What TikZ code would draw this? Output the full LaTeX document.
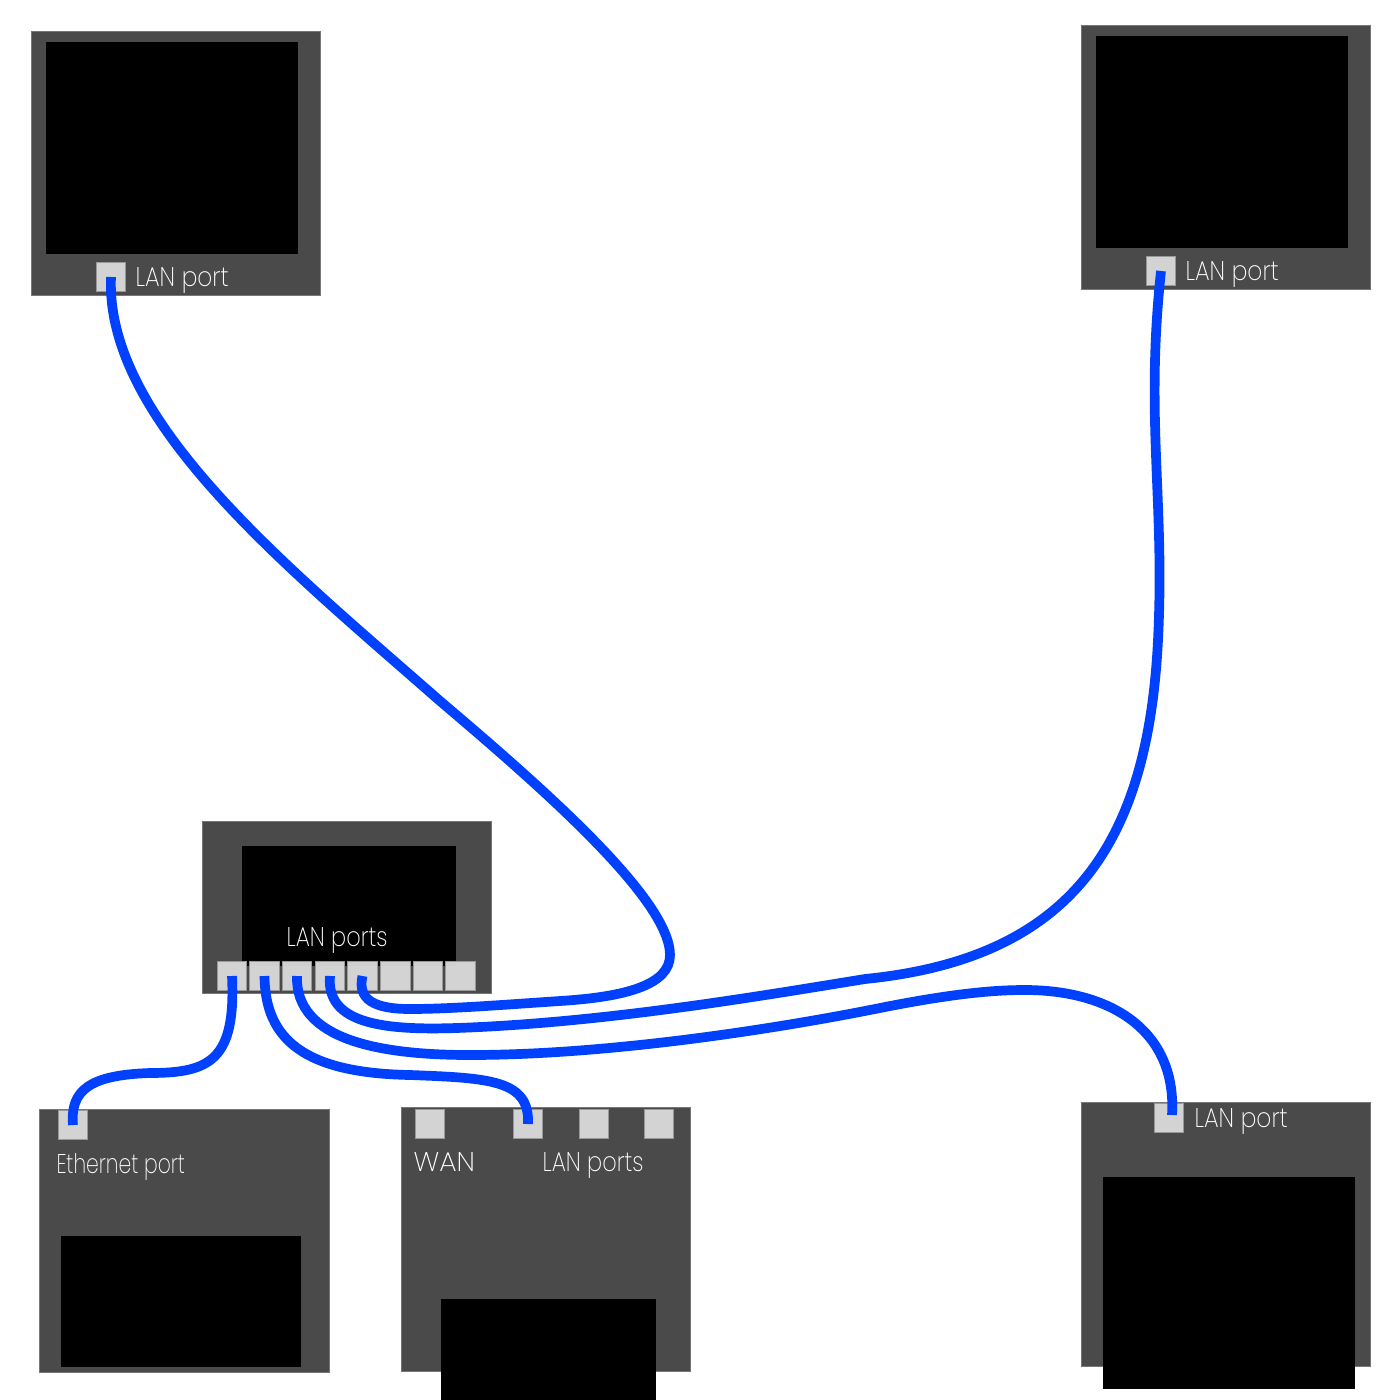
\documentclass[tikz,border=0pt]{standalone}
\usepackage{fontspec}
\setmainfont{Poppins ExtraLight}
\definecolor{panelc}{HTML}{4A4A4A}
\definecolor{portc}{HTML}{D9D9D9}
\definecolor{cablec}{HTML}{0040FF}
\begin{document}
\begin{tikzpicture}[x=0.01cm,y=-0.01cm,
 panel/.style={fill=panelc,draw=panelc!75!white,line width=0.005cm},
 screen/.style={fill=black},
 portbox/.style={fill=portc,fill opacity=0.96,draw=portc!70!black,line width=0.007cm,minimum width=0.295cm,minimum height=0.295cm,inner sep=0pt,outer sep=0pt},
 lbl/.style={text=white,font=\fontsize{7.7}{8}\selectfont,inner sep=0pt,anchor=base west,transform shape},
 cable/.style={draw=cablec,line width=0.097cm,line cap=butt}]
\useasboundingbox (0,0) rectangle (1400,1400);
\fill[white] (0,0) rectangle (1400,1400);
% panels and screens
\path[panel] (31,31) rectangle (320,295);
\path[screen] (46,42) rectangle (298,254);
\path[panel] (1081,25) rectangle (1370,289);
\path[screen] (1096,36) rectangle (1348,248);
\path[panel] (202,821) rectangle (491,993);
\path[screen] (242,846) rectangle (456,966);
\path[panel] (39,1109) rectangle (329,1372);
\path[screen] (61,1236) rectangle (301,1367);
\path[panel] (401,1107) rectangle (690,1371);
\path[screen] (441,1299) rectangle (656,1400);
\path[panel] (1081,1102) rectangle (1370,1366);
\path[screen] (1103,1177) rectangle (1355,1389);
% ports
\node[portbox] (tl) at (111,277) {};
\node[portbox] (tr) at (1161,271) {};
\foreach \i/\x in {1/232,2/264.5,3/297,4/330,5/362.5,6/395.5,7/428,8/460.5}
  \node[portbox] (sw\i) at (\x,976) {};
\node[portbox] (eth) at (73,1125) {};
\node[portbox] (wan) at (430,1124) {};
\node[portbox] (rl1) at (528,1124) {};
\node[portbox] (rl2) at (594,1124) {};
\node[portbox] (rl3) at (659,1124) {};
\node[portbox] (br) at (1169,1118) {};
% labels
\node[lbl,xscale=.86] (t1) at (135,286) {LAN port};
\node[lbl,xscale=.86] (t2) at (1185,280) {LAN port};
\node[lbl,xscale=.83] (t3) at (286,946) {LAN ports};
\node[lbl,xscale=.75] (t4) at (56,1173) {Ethernet port};
\node[lbl,xscale=1.02] (t5) at (413,1171) {WAN};
\node[lbl,xscale=.83] (t6) at (542,1171) {LAN ports};
\node[lbl,xscale=.86] (t7) at (1194,1127) {LAN port};
% cables
\path[cable] (tl.center) .. controls (105,420) and (285,565) .. (440,701)
  .. controls (545,790) and (670,900) .. (670,955)
  .. controls (670,985) and (625,997) .. (560,1001)
  .. controls (500,1005) and (450,1009) .. (410,1009)
  .. controls (375,1009) and (357,1000) .. (sw5.center);
\path[cable] (tr.center) .. controls (1145,420) and (1165,500) .. (1158,640)
  .. controls (1148,840) and (1075,958) .. (865,979)
  .. controls (760,996) and (620,1020) .. (480,1027)
  .. controls (400,1031) and (325,1030) .. (sw4.center);
\path[cable] (sw3.center) .. controls (295,1040) and (380,1055) .. (470,1055)
  .. controls (600,1055) and (760,1032) .. (880,1008)
  .. controls (960,992) and (1000,990) .. (1025,990)
  .. controls (1110,990) and (1177,1030) .. (1172,1115);
\path[cable] (sw1.center) .. controls (236,1060) and (210,1073) .. (150,1073)
  .. controls (90,1075) and (70,1090) .. (eth.center);
\path[cable] (sw2.center) .. controls (265,1040) and (305,1073) .. (410,1075)
  .. controls (490,1078) and (530,1080) .. (rl1.center);
\end{tikzpicture}
\end{document}
